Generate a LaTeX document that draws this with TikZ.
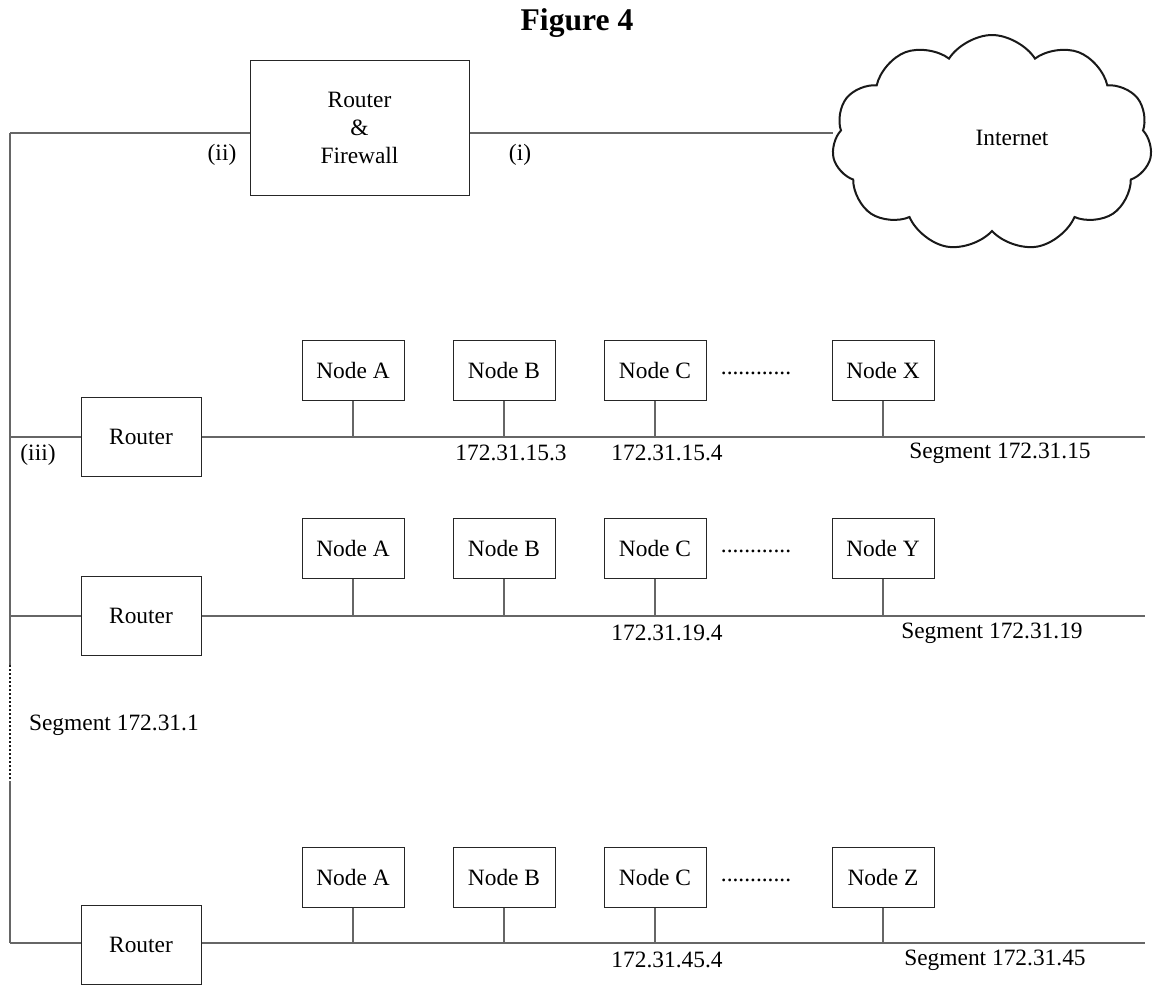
\documentclass[tikz,border=0pt]{standalone}
\usepackage{fontspec}
\setmainfont{Liberation Serif}
\usetikzlibrary{shapes.symbols}

\begin{document}
\begin{tikzpicture}[x=0.5pt, y=-0.5pt, node distance={75.5pt}, font=\fontsize{11.7}{14}\selectfont,
    main/.style = {draw=black!85, line width=0.5pt, rectangle, minimum width=51pt, minimum height=30pt},
    router/.style = {draw=black!85, line width=0.5pt, rectangle, minimum width=60pt, minimum height=39.5pt},
    wire/.style = {draw=black!60, line width=0.6pt}]
    \useasboundingbox (0,0) rectangle (1153,986);
    \node[font=\fontsize{15.8}{19}\selectfont\bfseries] (title) at (577,23) {Figure 4};
    \node[main, minimum width=109.5pt, minimum height=67.5pt, align=center] (rf) at (359.5,127.5) {Router\\\&\\Firewall};
    \node[cloud, draw=black!90, line width=1pt, cloud puffs=11, cloud puff arc=115, minimum width=160pt, minimum height=108pt,
        label={[xshift=10pt, yshift=2.5pt]center:Internet}] (net) at (992,143) {};
    \node (ii) at (222,155) {(ii)};
    \node (i) at (520,155) {(i)};
    \node (iii) at (38,455) {(iii)};
    \node[anchor=west] (seg) at (22,725) {Segment 172.31.1};
    % backbone
    \coordinate (top) at (10,133);
    \coordinate (d1) at (10,665);
    \coordinate (d2) at (10,781);
    \coordinate (bb1) at (10,437);
    \coordinate (bb2) at (10,616);
    \coordinate (bb3) at (10,943);
    \draw[wire] (top) -- (d1);
    \draw[black!90, line width=0.9pt, dash pattern=on 0.9pt off 1.1pt] (d1) -- (d2);
    \draw[wire] (d2) -- (bb3);
    \draw[wire] (top) -- (top -| rf.west);
    \draw[wire] (rf.east |- top) -- (top -| net.west);
    % segment 172.31.15
    \node[router] (r1) at (141,437) {Router};
    \node[main] (a1) at (353,370) {Node A};
    \node[main] (b1) [right of=a1] {Node B};
    \node[main] (c1) [right of=b1] {Node C};
    \node (dots1) [right of=c1, node distance={50.5pt}, yshift=-1.5pt] {............};
    \node[main] (x1) [right of=c1, node distance={114pt}] {Node X};
    \coordinate (e1) at (1145,437);
    \draw[wire] (bb1) -- (r1);
    \draw[wire] (r1) -- (e1);
    \foreach \n in {a1,b1,c1,x1} \draw[wire] (\n) -- (\n |- e1);
    \node (ip13) at (511,453) {172.31.15.3};
    \node (ip14) at (667,453) {172.31.15.4};
    \node (s1) at (1000,453) {Segment 172.31.15};
    % segment 172.31.19
    \node[router] (r2) at (141,616) {Router};
    \node[main] (a2) at (353,548) {Node A};
    \node[main] (b2) [right of=a2] {Node B};
    \node[main] (c2) [right of=b2] {Node C};
    \node (dots2) [right of=c2, node distance={50.5pt}, yshift=-1.5pt] {............};
    \node[main] (y2) [right of=c2, node distance={114pt}] {Node Y};
    \coordinate (e2) at (1145,616);
    \draw[wire] (bb2) -- (r2);
    \draw[wire] (r2) -- (e2);
    \foreach \n in {a2,b2,c2,y2} \draw[wire] (\n) -- (\n |- e2);
    \node (ip24) at (667,633) {172.31.19.4};
    \node (s2) at (992,633) {Segment 172.31.19};
    % segment 172.31.45
    \node[router] (r3) at (141,945) {Router};
    \node[main] (a3) at (353,877) {Node A};
    \node[main] (b3) [right of=a3] {Node B};
    \node[main] (c3) [right of=b3] {Node C};
    \node (dots3) [right of=c3, node distance={50.5pt}, yshift=-1.5pt] {............};
    \node[main] (z3) [right of=c3, node distance={114pt}] {Node Z};
    \coordinate (e3) at (1145,943);
    \draw[wire] (bb3) -- (bb3 -| r3.west);
    \draw[wire] (bb3 -| r3.east) -- (e3);
    \foreach \n in {a3,b3,c3,z3} \draw[wire] (\n) -- (\n |- e3);
    \node (ip34) at (667,960) {172.31.45.4};
    \node (s3) at (995,960) {Segment 172.31.45};
\end{tikzpicture}
\end{document}
